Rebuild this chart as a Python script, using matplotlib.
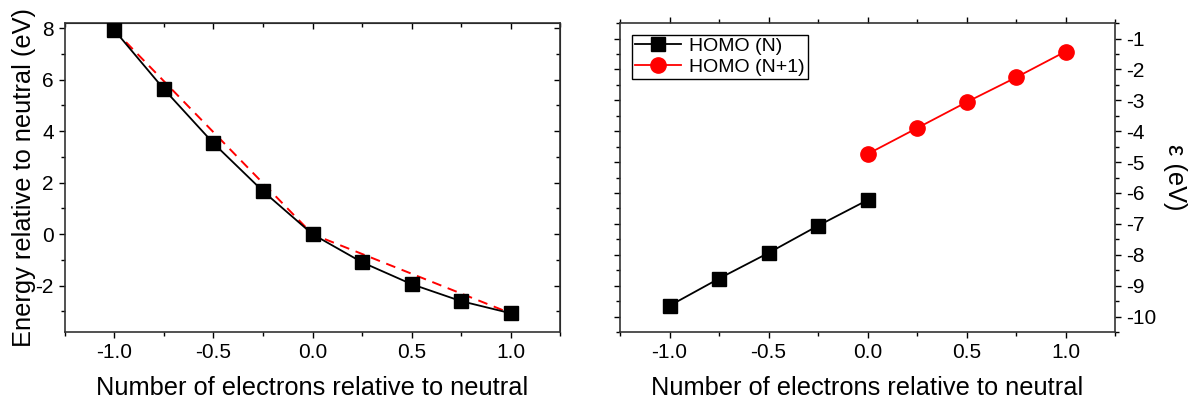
import matplotlib
matplotlib.use("Agg")
import matplotlib.pyplot as plt
from matplotlib.ticker import MultipleLocator, FormatStrFormatter

plt.rcParams['font.family'] = ['Liberation Sans', 'DejaVu Sans']
plt.rcParams['axes.unicode_minus'] = False

# number of electrons relative to neutral
dn = [-1.0, -0.75, -0.5, -0.25, 0.0, 0.25, 0.5, 0.75, 1.0]
energy = [7.92, 5.63, 3.53, 1.67, 0.0, -1.09, -1.94, -2.6, -3.07]
# straight-line reference (dashed red)
lin_x = [-1.0, 0.0, 1.0]
lin_y = [7.92, 0.0, -3.07]

homo_n_x = [-1.0, -0.75, -0.5, -0.25, 0.0]
homo_n = [-9.65, -8.77, -7.94, -7.06, -6.23]
homo_n1_x = [0.0, 0.25, 0.5, 0.75, 1.0]
homo_n1 = [-4.74, -3.9, -3.06, -2.26, -1.42]

fig = plt.figure(figsize=(11.88, 3.98), dpi=100)
ax1 = fig.add_axes([0.0547, 0.1658, 0.4167, 0.7762])
ax2 = fig.add_axes([0.5219, 0.1658, 0.4167, 0.7762])

# ---- left panel
ax1.plot(lin_x, lin_y, color='red', ls=(0, (5, 3.5)), lw=1.4, zorder=2)
ax1.plot(dn, energy, color='black', lw=1.3, marker='s', ms=10.5, zorder=3)
ax1.set_xlim(-1.25, 1.25)
ax1.set_ylim(-3.8, 8.2)
ax1.xaxis.set_major_locator(MultipleLocator(0.5))
ax1.xaxis.set_minor_locator(MultipleLocator(0.25))
ax1.xaxis.set_major_formatter(FormatStrFormatter('%.1f'))
ax1.yaxis.set_major_locator(MultipleLocator(2))
ax1.yaxis.set_minor_locator(MultipleLocator(1))
ax1.tick_params(which='both', direction='out', labelsize=15)
ax1.tick_params(which='major', length=4.5, width=1)
ax1.tick_params(which='minor', length=3, width=1)
# mirrored ticks on top/right point inward
sx = ax1.secondary_xaxis('top')
sx.xaxis.set_major_locator(MultipleLocator(0.5))
sx.xaxis.set_minor_locator(MultipleLocator(0.25))
sx.tick_params(which='both', direction='in', labeltop=False, width=1)
sx.tick_params(which='major', length=4.5)
sx.tick_params(which='minor', length=3)
sy = ax1.secondary_yaxis('right')
sy.yaxis.set_major_locator(MultipleLocator(2))
sy.yaxis.set_minor_locator(MultipleLocator(1))
sy.tick_params(which='both', direction='in', labelright=False, width=1)
sy.tick_params(which='major', length=4.5)
sy.tick_params(which='minor', length=3)
ax1.set_xlabel('Number of electrons relative to neutral', fontsize=18.3, labelpad=10)
ax1.set_ylabel('Energy relative to neutral (eV)', fontsize=18.3, va='center')
ax1.yaxis.set_label_coords(-0.083, 0.5)

# ---- right panel
ax2.plot(homo_n_x, homo_n, color='black', lw=1.3, marker='s', ms=10.5, label='HOMO (N)')
ax2.plot(homo_n1_x, homo_n1, color='red', lw=1.3, marker='o', ms=11, label='HOMO (N+1)')
ax2.set_xlim(-1.25, 1.25)
ax2.set_ylim(-10.5, -0.5)
ax2.xaxis.set_major_locator(MultipleLocator(0.5))
ax2.xaxis.set_minor_locator(MultipleLocator(0.25))
ax2.xaxis.set_major_formatter(FormatStrFormatter('%.1f'))
ax2.yaxis.set_major_locator(MultipleLocator(1))
ax2.yaxis.set_minor_locator(MultipleLocator(0.5))
ax2.yaxis.tick_right()
ax2.yaxis.set_label_position('right')
ax2.tick_params(which='both', direction='out', top=True, left=True, right=True,
                labelleft=False, labelright=True, labelsize=15)
ax2.tick_params(which='major', length=4.5, width=1)
ax2.tick_params(which='minor', length=3, width=1)
ax2.set_xlabel('Number of electrons relative to neutral', fontsize=18.3, labelpad=10)
ax2.set_ylabel('ε (eV)', fontsize=18.3, rotation=-90, va='center')
ax2.yaxis.set_label_coords(1.121, 0.5)
leg = ax2.legend(loc='upper left', fontsize=14, fancybox=False, edgecolor='black',
                 framealpha=1, handlelength=2.4, borderpad=0.15, labelspacing=0.15,
                 handletextpad=0.4, borderaxespad=0.6)
leg.get_frame().set_linewidth(1)

for ax in (ax1, ax2):
    for s in ax.spines.values():
        s.set_linewidth(1.2)
        s.set_color('#333333')

fig.savefig('out.png', dpi=100)
